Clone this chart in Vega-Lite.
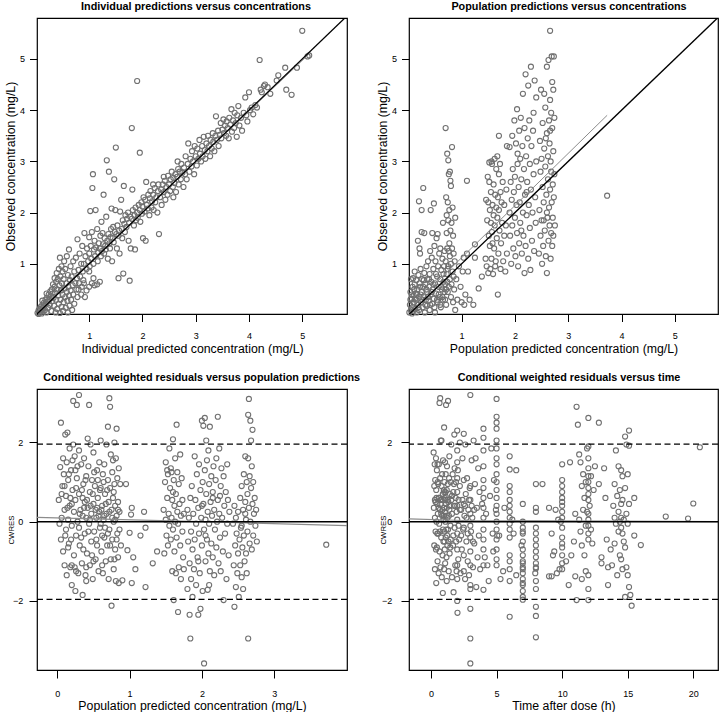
{
"$schema":"https://vega.github.io/schema/vega-lite/v6.json",
"autosize":{"type":"none"},
"padding":{"left":37,"top":18,"right":683,"bottom":694},
"background":"white",
"config":{
"font":"Liberation Sans",
"view":{"stroke":"black","strokeWidth":1.2},
"axis":{"grid":false,"domain":false,"tickColor":"black","tickWidth":1,"tickSize":7.5,"labelColor":"black","labelFontSize":9,"labelFont":"Liberation Sans","titleFont":"Liberation Sans","titleFontSize":12.3,"titleFontWeight":"normal","titleColor":"black","labelFlush":false,"labelOverlap":false,"format":"d"},
"point":{"shape":"circle","filled":false,"size":26,"strokeWidth":1.1,"color":"#707070","opacity":1,"clip":true},
"title":{"fontSize":10.8,"font":"Liberation Sans","fontWeight":"bold","color":"black","baseline":"alphabetic","offset":6.7,"frame":"group","anchor":"middle"}
},
"datasets":{
"p1":[
{"x":0.03,"y":0.04},{"x":0.05,"y":0.02},{"x":0.05,"y":0.09},{"x":0.07,"y":0.12},{"x":0.08,"y":0.05},{"x":0.09,"y":0.16},{"x":0.1,"y":0.1},{"x":0.11,"y":0.03},{"x":0.12,"y":0.2},{"x":0.13,"y":0.14},{"x":0.14,"y":0.07},{"x":0.15,"y":0.24},{"x":0.16,"y":0.18},{"x":0.17,"y":0.1},{"x":0.18,"y":0.3},{"x":0.19,"y":0.22},{"x":0.2,"y":0.05},{"x":0.21,"y":0.34},{"x":0.22,"y":0.26},{"x":0.23,"y":0.14},{"x":0.24,"y":0.4},{"x":0.25,"y":0.3},{"x":0.26,"y":0.2},{"x":0.27,"y":0.46},{"x":0.28,"y":0.36},{"x":0.29,"y":0.08},{"x":0.3,"y":0.5},{"x":0.3,"y":0.27},{"x":0.12,"y":0.28},{"x":0.2,"y":0.42},
{"x":0.31,"y":0.42},{"x":0.32,"y":0.6},{"x":0.33,"y":0.33},{"x":0.34,"y":0.18},{"x":0.35,"y":0.55},{"x":0.35,"y":0.72},{"x":0.36,"y":0.44},{"x":0.37,"y":0.05},{"x":0.38,"y":0.65},{"x":0.38,"y":0.3},{"x":0.39,"y":0.82},{"x":0.4,"y":0.5},{"x":0.4,"y":0.12},{"x":0.41,"y":0.7},{"x":0.42,"y":0.38},{"x":0.43,"y":0.9},{"x":0.43,"y":0.22},{"x":0.44,"y":0.58},{"x":0.45,"y":1.12},{"x":0.45,"y":0.04},{"x":0.46,"y":0.75},{"x":0.46,"y":0.3},{"x":0.47,"y":0.48},{"x":0.48,"y":0.95},{"x":0.48,"y":0.16},{"x":0.49,"y":0.62},{"x":0.5,"y":0.4},{"x":0.5,"y":0.85},{"x":0.51,"y":0.08},{"x":0.52,"y":0.7},{"x":0.52,"y":0.25},{"x":0.53,"y":1.05},{"x":0.54,"y":0.52},{"x":0.55,"y":0.35},{"x":0.55,"y":0.9},{"x":0.56,"y":0.14},{"x":0.57,"y":0.62},{"x":0.58,"y":1.15},{"x":0.58,"y":0.45},{"x":0.59,"y":0.28},{"x":0.6,"y":0.78},{"x":0.6,"y":0.05},{"x":0.61,"y":0.55},{"x":0.62,"y":1.28},{"x":0.62,"y":0.38},{"x":0.63,"y":0.18},{"x":0.64,"y":0.68},{"x":0.65,"y":0.95},{"x":0.65,"y":0.48},{"x":0.66,"y":0.3},{"x":0.67,"y":0.75},{"x":0.68,"y":0.1},{"x":0.69,"y":0.58},{"x":0.7,"y":1.05},{"x":0.7,"y":0.4},{"x":0.72,"y":0.85},{"x":0.72,"y":0.22},{"x":0.74,"y":0.62},{"x":0.75,"y":1.12},{"x":0.76,"y":0.5},{"x":0.77,"y":0.72},{"x":0.78,"y":1.48},{"x":0.78,"y":0.35},{"x":0.8,"y":0.88},{"x":0.81,"y":0.62},{"x":0.82,"y":1.2},{"x":0.83,"y":0.75},{"x":0.85,"y":1.0},{"x":0.86,"y":0.55},{"x":0.87,"y":1.35},{"x":0.88,"y":0.85},{"x":0.89,"y":0.68},
{"x":0.8,"y":0.5},{"x":0.85,"y":0.4},{"x":0.9,"y":0.62},{"x":0.95,"y":0.48},{"x":1.0,"y":0.55},{"x":1.05,"y":0.62},{"x":1.1,"y":0.58},{"x":1.15,"y":0.6},{"x":1.2,"y":0.65},{"x":0.92,"y":0.35},{"x":1.0,"y":0.85},{"x":1.08,"y":0.72},{"x":1.55,"y":0.72},{"x":1.64,"y":0.81},{"x":1.76,"y":0.67},
{"x":0.9,"y":1.0},{"x":0.91,"y":1.6},{"x":0.93,"y":1.15},{"x":0.95,"y":0.9},{"x":0.96,"y":1.3},{"x":0.98,"y":1.05},{"x":1.0,"y":1.2},{"x":1.0,"y":1.52},{"x":1.01,"y":0.95},{"x":1.02,"y":2.03},{"x":1.03,"y":1.35},{"x":1.04,"y":1.1},{"x":1.05,"y":1.62},{"x":1.06,"y":2.48},{"x":1.07,"y":2.75},{"x":1.08,"y":1.0},{"x":1.09,"y":1.28},{"x":1.1,"y":1.45},{"x":1.11,"y":1.15},{"x":1.12,"y":2.05},{"x":1.13,"y":1.32},{"x":1.15,"y":1.68},{"x":1.16,"y":1.05},{"x":1.17,"y":1.22},{"x":1.18,"y":1.4},{"x":1.2,"y":1.3},{"x":1.21,"y":1.55},{"x":1.22,"y":1.15},{"x":1.23,"y":1.82},{"x":1.24,"y":1.25},{"x":1.25,"y":1.6},{"x":1.26,"y":1.38},{"x":1.27,"y":2.35},{"x":1.28,"y":1.2},{"x":1.29,"y":1.5},{"x":1.3,"y":1.35},{"x":1.31,"y":1.28},{"x":1.32,"y":1.92},{"x":1.33,"y":3.02},{"x":1.34,"y":1.45},{"x":1.35,"y":1.1},{"x":1.36,"y":1.58},{"x":1.37,"y":2.8},{"x":1.38,"y":1.4},{"x":1.39,"y":1.3},{"x":1.4,"y":1.52},{"x":1.41,"y":1.68},{"x":1.42,"y":2.08},{"x":1.43,"y":1.05},{"x":1.44,"y":1.5},{"x":1.45,"y":1.72},{"x":1.46,"y":1.42},{"x":1.47,"y":2.65},{"x":1.48,"y":1.62},{"x":1.49,"y":2.05},{"x":1.5,"y":3.27},{"x":1.51,"y":1.58},{"x":1.52,"y":1.3},{"x":1.53,"y":1.75},{"x":1.55,"y":1.55},{"x":1.56,"y":1.65},{"x":1.57,"y":1.2},{"x":1.58,"y":2.02},{"x":1.6,"y":2.25},{"x":1.61,"y":1.68},{"x":1.62,"y":1.5},{"x":1.63,"y":1.85},{"x":1.65,"y":2.52},{"x":1.66,"y":1.78},{"x":1.67,"y":1.62},{"x":1.68,"y":1.95},{"x":1.7,"y":1.72},{"x":1.71,"y":1.88},{"x":1.73,"y":2.0},{"x":1.74,"y":1.45},{"x":1.75,"y":1.8},{"x":1.77,"y":1.92},{"x":1.78,"y":1.3},{"x":1.8,"y":3.65},{"x":1.8,"y":1.88},{"x":1.81,"y":2.45},{"x":1.82,"y":2.05},{"x":1.84,"y":1.75},{"x":1.85,"y":1.95},{"x":1.86,"y":1.28},{"x":1.87,"y":2.1},{"x":1.88,"y":1.85},{"x":1.9,"y":4.57},{"x":1.9,"y":2.0},{"x":1.91,"y":1.9},{"x":1.93,"y":2.15},{"x":1.95,"y":3.17},{"x":1.95,"y":2.05},{"x":1.96,"y":1.82},{"x":1.98,"y":2.2},{"x":1.99,"y":1.98},
{"x":2.0,"y":2.12},{"x":2.01,"y":1.5},{"x":2.02,"y":2.3},{"x":2.04,"y":2.02},{"x":2.05,"y":2.25},{"x":2.06,"y":1.45},{"x":2.07,"y":2.6},{"x":2.08,"y":2.15},{"x":2.1,"y":2.08},{"x":2.11,"y":2.35},{"x":2.13,"y":1.95},{"x":2.14,"y":2.28},{"x":2.15,"y":2.42},{"x":2.17,"y":2.1},{"x":2.18,"y":2.22},{"x":2.2,"y":2.35},{"x":2.21,"y":2.05},{"x":2.23,"y":2.48},{"x":2.24,"y":2.2},{"x":2.26,"y":2.3},{"x":2.28,"y":2.0},{"x":2.29,"y":2.42},{"x":2.3,"y":2.55},{"x":2.31,"y":1.58},{"x":2.33,"y":2.3},{"x":2.35,"y":2.45},{"x":2.36,"y":2.15},{"x":2.38,"y":2.55},{"x":2.4,"y":2.4},{"x":2.42,"y":2.62},{"x":2.43,"y":2.25},{"x":2.45,"y":2.5},{"x":2.47,"y":2.35},{"x":2.48,"y":2.72},{"x":2.5,"y":2.55},{"x":2.52,"y":2.42},{"x":2.53,"y":2.65},{"x":2.55,"y":2.8},{"x":2.57,"y":2.5},{"x":2.58,"y":2.68},{"x":2.6,"y":2.58},{"x":2.62,"y":2.75},{"x":2.63,"y":2.4},{"x":2.65,"y":2.7},{"x":2.67,"y":2.85},{"x":2.68,"y":2.55},{"x":2.7,"y":2.8},{"x":2.72,"y":2.65},{"x":2.73,"y":2.95},{"x":2.75,"y":2.78},{"x":2.77,"y":2.5},{"x":2.78,"y":2.88},{"x":2.8,"y":2.75},{"x":2.81,"y":3.1},{"x":2.83,"y":2.65},{"x":2.85,"y":2.95},{"x":2.86,"y":3.35},{"x":2.88,"y":2.8},{"x":2.9,"y":3.05},{"x":2.92,"y":2.9},{"x":2.93,"y":3.2},{"x":2.95,"y":3.0},{"x":2.97,"y":2.75},{"x":2.98,"y":3.3},{"x":2.58,"y":2.3},{"x":2.4,"y":2.7},{"x":2.2,"y":2.55},{"x":2.66,"y":3.0},
{"x":3.0,"y":3.1},{"x":3.02,"y":2.92},{"x":3.03,"y":3.25},{"x":3.05,"y":3.05},{"x":3.07,"y":3.42},{"x":3.08,"y":3.15},{"x":3.1,"y":3.0},{"x":3.12,"y":3.3},{"x":3.13,"y":3.1},{"x":3.15,"y":3.48},{"x":3.17,"y":3.22},{"x":3.18,"y":3.05},{"x":3.2,"y":3.35},{"x":3.22,"y":3.2},{"x":3.23,"y":3.5},{"x":3.25,"y":3.3},{"x":3.27,"y":3.1},{"x":3.28,"y":3.42},{"x":3.3,"y":3.25},{"x":3.32,"y":3.55},{"x":3.33,"y":3.38},{"x":3.35,"y":3.2},{"x":3.37,"y":3.5},{"x":3.38,"y":3.88},{"x":3.4,"y":3.42},{"x":3.42,"y":3.6},{"x":3.43,"y":3.3},{"x":3.45,"y":3.52},{"x":3.47,"y":3.75},{"x":3.48,"y":3.45},{"x":3.5,"y":3.62},{"x":3.52,"y":3.82},{"x":3.53,"y":3.55},{"x":3.55,"y":3.7},{"x":3.57,"y":3.5},{"x":3.58,"y":3.78},{"x":3.6,"y":3.65},{"x":3.62,"y":3.45},{"x":3.63,"y":3.85},{"x":3.65,"y":3.72},{"x":3.67,"y":4.02},{"x":3.68,"y":3.58},{"x":3.7,"y":3.8},{"x":3.72,"y":3.65},{"x":3.73,"y":3.95},{"x":3.75,"y":3.75},{"x":3.77,"y":3.48},{"x":3.78,"y":3.9},{"x":3.8,"y":4.08},{"x":3.82,"y":3.7},{"x":3.85,"y":3.85},{"x":3.87,"y":3.6},{"x":3.9,"y":3.95},{"x":3.93,"y":4.25},{"x":3.95,"y":3.9},{"x":3.97,"y":3.78},{"x":4.0,"y":4.35},{"x":4.02,"y":4.0},{"x":4.05,"y":4.05},{"x":4.08,"y":3.92},{"x":4.12,"y":4.1},{"x":4.15,"y":4.05},
{"x":4.2,"y":4.98},{"x":4.22,"y":4.4},{"x":4.24,"y":4.35},{"x":4.28,"y":4.47},{"x":4.3,"y":4.5},{"x":4.4,"y":4.32},{"x":4.52,"y":4.58},{"x":4.55,"y":4.68},{"x":4.68,"y":4.83},{"x":4.7,"y":4.4},{"x":4.8,"y":4.3},{"x":4.9,"y":4.83},{"x":5.0,"y":5.55},{"x":5.1,"y":5.05},{"x":5.13,"y":5.07},{"x":4.35,"y":4.45}
],
"p2":[
{"x":0.02,"y":0.05},{"x":0.03,"y":0.2},{"x":0.04,"y":0.45},{"x":0.05,"y":0.1},{"x":0.05,"y":0.7},{"x":0.06,"y":0.32},{"x":0.07,"y":0.03},{"x":0.08,"y":0.55},{"x":0.08,"y":0.15},{"x":0.09,"y":0.72},{"x":0.1,"y":0.38},{"x":0.1,"y":0.08},{"x":0.11,"y":0.25},{"x":0.12,"y":0.6},{"x":0.12,"y":0.85},{"x":0.13,"y":0.12},{"x":0.14,"y":0.42},{"x":0.15,"y":0.3},{"x":0.15,"y":0.68},{"x":0.16,"y":0.05},{"x":0.17,"y":0.5},{"x":0.18,"y":0.2},{"x":0.18,"y":1.45},{"x":0.19,"y":0.78},{"x":0.2,"y":0.35},{"x":0.2,"y":0.1},{"x":0.2,"y":2.22},{"x":0.21,"y":1.3},{"x":0.22,"y":0.55},{"x":0.22,"y":1.2},{"x":0.23,"y":0.9},{"x":0.24,"y":0.25},{"x":0.25,"y":0.45},{"x":0.25,"y":1.62},{"x":0.25,"y":2.05},{"x":0.26,"y":0.7},{"x":0.27,"y":0.15},{"x":0.28,"y":0.55},{"x":0.28,"y":2.48},{"x":0.29,"y":0.35},{"x":0.3,"y":0.82},{"x":0.3,"y":1.6},{"x":0.31,"y":0.05},{"x":0.32,"y":0.6},{"x":0.33,"y":0.3},{"x":0.34,"y":0.95},{"x":0.35,"y":0.45},{"x":0.35,"y":0.18},{"x":0.36,"y":0.7},{"x":0.37,"y":1.05},{"x":0.38,"y":0.28},{"x":0.39,"y":0.55},{"x":0.4,"y":0.8},{"x":0.4,"y":0.1},{"x":0.41,"y":1.25},{"x":0.42,"y":0.4},{"x":0.42,"y":2.05},{"x":0.43,"y":0.65},{"x":0.44,"y":1.12},{"x":0.45,"y":0.22},{"x":0.45,"y":1.6},{"x":0.46,"y":0.5},{"x":0.47,"y":0.9},{"x":0.48,"y":2.18},{"x":0.48,"y":0.32},{"x":0.49,"y":1.35},{"x":0.5,"y":0.62},{"x":0.5,"y":0.05},{"x":0.51,"y":1.05},{"x":0.52,"y":0.42},{"x":0.53,"y":1.5},{"x":0.54,"y":0.75},{"x":0.55,"y":0.25},{"x":0.55,"y":1.58},{"x":0.56,"y":0.95},{"x":0.57,"y":0.55},{"x":0.58,"y":1.2},{"x":0.59,"y":0.35},{"x":0.6,"y":0.7},{"x":0.6,"y":1.3},{"x":0.61,"y":0.15},{"x":0.62,"y":0.88},{"x":0.63,"y":0.5},{"x":0.64,"y":1.1},{"x":0.65,"y":0.3},{"x":0.65,"y":1.8},{"x":0.66,"y":0.65},{"x":0.67,"y":0.95},{"x":0.68,"y":1.25},{"x":0.68,"y":0.45},
{"x":0.04,"y":0.3},{"x":0.07,"y":0.4},{"x":0.09,"y":0.25},{"x":0.11,"y":0.5},{"x":0.13,"y":0.3},{"x":0.16,"y":0.4},{"x":0.19,"y":0.15},{"x":0.21,"y":0.62},{"x":0.23,"y":0.4},{"x":0.26,"y":0.3},{"x":0.29,"y":0.68},{"x":0.32,"y":0.2},{"x":0.34,"y":0.5},{"x":0.37,"y":0.35},{"x":0.39,"y":0.7},{"x":0.41,"y":0.2},{"x":0.44,"y":0.45},{"x":0.47,"y":0.6},{"x":0.49,"y":0.15},{"x":0.52,"y":0.8},{"x":0.54,"y":0.3},{"x":0.57,"y":0.4},{"x":0.6,"y":0.2},{"x":0.62,"y":0.55},{"x":0.64,"y":0.35},{"x":0.66,"y":0.8},{"x":0.69,"y":0.3},{"x":0.71,"y":0.5},{"x":0.73,"y":0.65},{"x":0.74,"y":0.9},
{"x":0.69,"y":0.6},{"x":0.7,"y":3.65},{"x":0.7,"y":1.05},{"x":0.71,"y":0.2},{"x":0.71,"y":2.3},{"x":0.72,"y":1.6},{"x":0.72,"y":0.8},{"x":0.73,"y":3.15},{"x":0.73,"y":1.3},{"x":0.74,"y":2.2},{"x":0.74,"y":0.45},{"x":0.75,"y":3.02},{"x":0.75,"y":1.85},{"x":0.75,"y":0.95},{"x":0.76,"y":2.75},{"x":0.76,"y":0.55},{"x":0.77,"y":1.4},{"x":0.77,"y":2.05},{"x":0.78,"y":2.8},{"x":0.78,"y":0.7},{"x":0.78,"y":1.15},{"x":0.79,"y":2.62},{"x":0.79,"y":1.65},{"x":0.8,"y":0.35},{"x":0.8,"y":2.52},{"x":0.8,"y":1.0},{"x":0.81,"y":1.8},{"x":0.81,"y":0.6},{"x":0.82,"y":3.28},{"x":0.82,"y":1.3},{"x":0.83,"y":2.1},{"x":0.83,"y":0.85},{"x":0.84,"y":1.55},{"x":0.84,"y":0.25},{"x":0.85,"y":0.75},{"x":0.85,"y":1.2},{"x":0.86,"y":0.5},{"x":0.87,"y":1.05},{"x":0.88,"y":1.9},{"x":0.88,"y":0.1},{"x":0.76,"y":1.25},{"x":0.72,"y":1.95},
{"x":0.9,"y":0.7},{"x":0.92,"y":0.3},{"x":0.95,"y":0.95},{"x":0.98,"y":0.55},{"x":1.0,"y":0.25},{"x":1.02,"y":0.85},{"x":1.04,"y":1.12},{"x":1.05,"y":0.2},{"x":1.07,"y":0.4},{"x":1.1,"y":2.62},{"x":1.1,"y":1.2},{"x":1.12,"y":0.85},{"x":1.15,"y":0.3},{"x":1.22,"y":0.2},{"x":1.25,"y":1.12},{"x":1.25,"y":1.38},{"x":1.32,"y":0.52},{"x":1.38,"y":0.75},{"x":1.68,"y":0.4},
{"x":1.45,"y":1.1},{"x":1.46,"y":2.25},{"x":1.47,"y":0.95},{"x":1.48,"y":1.85},{"x":1.49,"y":2.7},{"x":1.5,"y":0.82},{"x":1.5,"y":2.2},{"x":1.51,"y":1.55},{"x":1.52,"y":2.98},{"x":1.53,"y":1.35},{"x":1.53,"y":2.05},{"x":1.54,"y":0.9},{"x":1.55,"y":1.8},{"x":1.55,"y":2.4},{"x":1.56,"y":1.1},{"x":1.57,"y":2.95},{"x":1.57,"y":1.62},{"x":1.58,"y":2.15},{"x":1.59,"y":0.8},{"x":1.6,"y":1.95},{"x":1.6,"y":2.55},{"x":1.61,"y":1.3},{"x":1.62,"y":3.05},{"x":1.62,"y":1.75},{"x":1.63,"y":2.35},{"x":1.64,"y":1.05},{"x":1.65,"y":2.1},{"x":1.65,"y":2.85},{"x":1.66,"y":1.5},{"x":1.67,"y":1.9},{"x":1.67,"y":3.1},{"x":1.68,"y":2.3},{"x":1.69,"y":1.2},{"x":1.7,"y":3.5},{"x":1.7,"y":2.05},{"x":1.71,"y":1.65},{"x":1.72,"y":2.95},{"x":1.73,"y":0.9},{"x":1.73,"y":2.4},{"x":1.74,"y":1.4},{"x":1.75,"y":2.2},{"x":1.76,"y":1.8},{"x":1.77,"y":2.6},{"x":1.78,"y":1.05},{"x":1.8,"y":1.55},{"x":1.8,"y":2.15},{"x":1.82,"y":0.85},{"x":1.83,"y":1.75},{"x":1.84,"y":2.45},{"x":1.85,"y":1.2},{"x":1.85,"y":3.3},{"x":1.58,"y":1.4},{"x":1.52,"y":2.6},{"x":1.63,"y":0.95},{"x":1.56,"y":3.0},{"x":1.7,"y":2.75},
{"x":1.9,"y":2.0},{"x":1.9,"y":3.28},{"x":1.91,"y":1.55},{"x":1.92,"y":2.6},{"x":1.93,"y":1.0},{"x":1.94,"y":2.25},{"x":1.95,"y":3.5},{"x":1.95,"y":1.75},{"x":1.96,"y":2.85},{"x":1.97,"y":1.3},{"x":1.98,"y":2.4},{"x":1.99,"y":3.8},{"x":2.0,"y":1.9},{"x":2.0,"y":2.7},{"x":2.01,"y":1.15},{"x":2.02,"y":3.35},{"x":2.03,"y":2.15},{"x":2.04,"y":4.02},{"x":2.04,"y":1.6},{"x":2.05,"y":2.95},{"x":2.06,"y":0.95},{"x":2.07,"y":2.5},{"x":2.08,"y":3.6},{"x":2.08,"y":1.4},{"x":2.09,"y":2.2},{"x":2.1,"y":3.05},{"x":2.1,"y":1.8},{"x":2.11,"y":3.85},{"x":2.12,"y":2.65},{"x":2.13,"y":1.2},{"x":2.14,"y":3.3},{"x":2.15,"y":2.0},{"x":2.15,"y":4.32},{"x":2.16,"y":1.55},{"x":2.17,"y":2.85},{"x":2.18,"y":3.65},{"x":2.18,"y":0.82},{"x":2.19,"y":2.35},{"x":2.2,"y":1.35},{"x":2.2,"y":4.7},{"x":2.21,"y":3.1},{"x":2.22,"y":1.95},{"x":2.23,"y":2.6},{"x":2.24,"y":3.45},{"x":2.25,"y":1.1},{"x":2.25,"y":4.48},{"x":2.26,"y":2.15},{"x":2.27,"y":3.8},{"x":2.28,"y":1.7},{"x":2.28,"y":2.95},{"x":2.29,"y":0.88},{"x":2.3,"y":2.45},{"x":2.3,"y":4.85},{"x":2.31,"y":3.3},{"x":2.32,"y":1.45},{"x":2.33,"y":2.0},{"x":2.34,"y":3.6},{"x":2.35,"y":2.75},{"x":2.36,"y":1.25},{"x":2.37,"y":4.58},{"x":2.38,"y":2.3},{"x":2.39,"y":1.8},{"x":2.4,"y":3.0},{"x":2.4,"y":4.25},{"x":2.12,"y":1.65},{"x":2.22,"y":2.4},{"x":2.05,"y":3.15},{"x":2.35,"y":3.95},
{"x":2.45,"y":1.2},{"x":2.46,"y":2.05},{"x":2.47,"y":3.4},{"x":2.48,"y":1.55},{"x":2.48,"y":2.8},{"x":2.49,"y":4.4},{"x":2.5,"y":1.85},{"x":2.5,"y":3.05},{"x":2.51,"y":1.0},{"x":2.52,"y":2.5},{"x":2.52,"y":3.75},{"x":2.53,"y":1.35},{"x":2.54,"y":2.2},{"x":2.55,"y":4.32},{"x":2.55,"y":3.25},{"x":2.56,"y":1.65},{"x":2.57,"y":2.9},{"x":2.57,"y":4.05},{"x":2.58,"y":1.15},{"x":2.59,"y":2.35},{"x":2.6,"y":3.55},{"x":2.6,"y":0.82},{"x":2.6,"y":4.85},{"x":2.61,"y":1.9},{"x":2.62,"y":3.1},{"x":2.62,"y":2.65},{"x":2.63,"y":4.98},{"x":2.63,"y":1.45},{"x":2.64,"y":3.8},{"x":2.64,"y":2.1},{"x":2.65,"y":1.75},{"x":2.65,"y":3.35},{"x":2.66,"y":5.55},{"x":2.66,"y":2.45},{"x":2.66,"y":4.2},{"x":2.67,"y":1.1},{"x":2.67,"y":3.0},{"x":2.68,"y":2.8},{"x":2.68,"y":3.95},{"x":2.68,"y":1.6},{"x":2.69,"y":5.05},{"x":2.69,"y":2.2},{"x":2.7,"y":3.65},{"x":2.7,"y":1.35},{"x":2.7,"y":4.55},{"x":2.71,"y":2.55},{"x":2.71,"y":1.9},{"x":2.72,"y":3.2},{"x":2.72,"y":4.4},{"x":2.72,"y":1.55},{"x":2.73,"y":5.05},{"x":2.73,"y":2.3},{"x":2.74,"y":3.85},{"x":2.74,"y":2.75},{"x":2.75,"y":1.75},{"x":2.58,"y":3.45},{"x":2.54,"y":1.85},{"x":2.6,"y":2.0},{"x":2.66,"y":3.6},
{"x":3.73,"y":2.33}
],
"p3":[
{"x":0.02,"y":0.55},{"x":0.03,"y":-0.05},{"x":0.04,"y":1.38},{"x":0.05,"y":2.5},{"x":0.05,"y":-0.45},{"x":0.06,"y":0.1},{"x":0.07,"y":0.9},{"x":0.08,"y":-0.75},{"x":0.09,"y":1.2},{"x":0.1,"y":0.3},{"x":0.1,"y":-1.1},{"x":0.11,"y":2.2},{"x":0.12,"y":0.65},{"x":0.12,"y":-0.2},{"x":0.13,"y":1.5},{"x":0.13,"y":-1.35},{"x":0.14,"y":2.25},{"x":0.15,"y":0.05},{"x":0.15,"y":1.05},{"x":0.16,"y":-0.55},{"x":0.17,"y":1.85},{"x":0.17,"y":0.4},{"x":0.18,"y":-1.15},{"x":0.19,"y":1.3},{"x":0.2,"y":-0.1},{"x":0.2,"y":-1.6},{"x":0.21,"y":0.8},{"x":0.22,"y":3.05},{"x":0.22,"y":1.95},{"x":0.23,"y":-0.85},{"x":0.23,"y":0.25},{"x":0.24,"y":1.65},{"x":0.25,"y":-1.75},{"x":0.25,"y":0.55},{"x":0.26,"y":-0.35},{"x":0.27,"y":1.1},{"x":0.27,"y":2.95},{"x":0.28,"y":0.0},{"x":0.29,"y":-1.3},{"x":0.3,"y":3.2},{"x":0.3,"y":0.7},{"x":0.3,"y":1.8},{"x":0.31,"y":-0.6},{"x":0.32,"y":0.3},{"x":0.33,"y":1.45},{"x":0.34,"y":-1.05},{"x":0.35,"y":0.15},{"x":0.35,"y":-1.85},{"x":0.36,"y":0.95},{"x":0.37,"y":1.6},{"x":0.38,"y":-0.3},{"x":0.38,"y":0.5},{"x":0.39,"y":-1.35},{"x":0.4,"y":1.15},{"x":0.4,"y":0.1},{"x":0.41,"y":-0.8},{"x":0.42,"y":2.1},{"x":0.42,"y":0.35},{"x":0.43,"y":1.4},{"x":0.44,"y":-0.05},{"x":0.44,"y":2.95},{"x":0.45,"y":-1.1},{"x":0.45,"y":0.75},{"x":0.46,"y":1.95},{"x":0.47,"y":-0.5},{"x":0.47,"y":0.2},{"x":0.48,"y":1.05},{"x":0.49,"y":-1.45},{"x":0.5,"y":0.45},{"x":0.5,"y":1.75},{"x":0.51,"y":-0.25},{"x":0.52,"y":0.9},{"x":0.53,"y":-0.95},{"x":0.54,"y":0.1},{"x":0.55,"y":1.3},{"x":0.55,"y":-0.6},{"x":0.56,"y":0.6},{"x":0.57,"y":-1.25},{"x":0.58,"y":1.5},{"x":0.58,"y":0.25},{"x":0.59,"y":-0.15},{"x":0.6,"y":2.05},{"x":0.6,"y":0.85},{"x":0.61,"y":-0.75},{"x":0.62,"y":0.4},{"x":0.63,"y":1.2},{"x":0.63,"y":-1.3},{"x":0.64,"y":0.05},{"x":0.65,"y":1.45},{"x":0.65,"y":-0.4},{"x":0.66,"y":0.7},{"x":0.67,"y":-1.0},{"x":0.68,"y":1.95},{"x":0.68,"y":0.2},{"x":0.69,"y":-0.6},{"x":0.7,"y":1.05},{"x":0.7,"y":2.4},{"x":0.71,"y":-1.45},{"x":0.71,"y":0.5},{"x":0.72,"y":3.12},{"x":0.72,"y":-0.2},{"x":0.73,"y":2.9},{"x":0.73,"y":0.85},{"x":0.74,"y":-0.95},{"x":0.74,"y":1.7},{"x":0.75,"y":0.3},{"x":0.75,"y":-2.12},{"x":0.76,"y":1.25},{"x":0.76,"y":-0.45},{"x":0.77,"y":0.6},{"x":0.77,"y":1.55},{"x":0.78,"y":-1.2},{"x":0.78,"y":0.0},{"x":0.79,"y":2.0},{"x":0.79,"y":0.95},{"x":0.8,"y":-0.7},{"x":0.8,"y":0.4},{"x":0.81,"y":1.6},{"x":0.81,"y":-1.5},{"x":0.82,"y":0.15},{"x":0.82,"y":2.35},{"x":0.83,"y":-0.3},{"x":0.83,"y":1.1},{"x":0.84,"y":0.5},{"x":0.84,"y":-0.9},{"x":0.85,"y":1.35},{"x":0.85,"y":-1.55},{"x":0.86,"y":0.25},{"x":0.87,"y":0.95},{"x":0.88,"y":-0.6},{"x":0.3,"y":-0.15},{"x":0.35,"y":0.6},{"x":0.45,"y":0.05},{"x":0.55,"y":0.35},{"x":0.65,"y":0.15},{"x":0.2,"y":0.45},{"x":0.15,"y":-0.65},{"x":0.4,"y":-1.5},{"x":0.5,"y":-1.0},{"x":0.6,"y":-0.05},{"x":0.25,"y":1.3},{"x":0.1,"y":0.9},
{"x":0.06,"y":0.7},{"x":0.08,"y":1.6},{"x":0.11,"y":-0.35},{"x":0.14,"y":0.35},{"x":0.16,"y":1.2},{"x":0.18,"y":0.6},{"x":0.19,"y":-0.45},{"x":0.21,"y":1.55},{"x":0.24,"y":-1.15},{"x":0.26,"y":0.85},{"x":0.28,"y":1.4},{"x":0.31,"y":0.2},{"x":0.33,"y":-0.4},{"x":0.34,"y":0.8},{"x":0.36,"y":-0.7},{"x":0.37,"y":0.35},{"x":0.39,"y":1.05},{"x":0.41,"y":0.55},{"x":0.43,"y":-0.25},{"x":0.46,"y":0.4},{"x":0.48,"y":-0.85},{"x":0.49,"y":0.7},{"x":0.51,"y":1.25},{"x":0.53,"y":0.3},{"x":0.54,"y":-0.45},{"x":0.56,"y":1.05},{"x":0.57,"y":0.15},{"x":0.59,"y":0.8},{"x":0.61,"y":0.3},{"x":0.62,"y":-0.35},{"x":0.64,"y":1.0},{"x":0.66,"y":-0.15},{"x":0.67,"y":0.45},{"x":0.69,"y":0.8},{"x":0.7,"y":-0.3},{"x":0.72,"y":0.25},{"x":0.73,"y":-0.6},{"x":0.76,"y":0.1},{"x":0.78,"y":0.75},{"x":0.8,"y":0.05},{"x":0.82,"y":-0.45},{"x":0.84,"y":0.3},{"x":0.86,"y":-0.2},{"x":0.4,"y":-1.15},{"x":0.26,"y":-1.25},{"x":0.2,"y":-1.1},{"x":0.62,"y":-1.1},{"x":0.79,"y":-0.95},
{"x":0.9,"y":-1.48},{"x":0.95,"y":0.95},{"x":0.97,"y":-0.72},{"x":1.0,"y":-0.28},{"x":1.02,"y":0.18},{"x":1.03,"y":0.35},{"x":1.03,"y":-1.55},{"x":1.05,"y":-0.9},{"x":1.08,"y":-1.2},{"x":1.15,"y":-0.35},{"x":1.2,"y":0.25},{"x":1.22,"y":-0.15},{"x":1.22,"y":-1.65},{"x":1.32,"y":-1.05},{"x":1.38,"y":-0.75},
{"x":1.47,"y":0.3},{"x":1.48,"y":-0.8},{"x":1.49,"y":1.0},{"x":1.5,"y":0.05},{"x":1.5,"y":1.5},{"x":1.51,"y":-0.35},{"x":1.52,"y":0.6},{"x":1.53,"y":1.2},{"x":1.53,"y":-0.6},{"x":1.54,"y":0.2},{"x":1.55,"y":1.85},{"x":1.55,"y":-0.1},{"x":1.56,"y":0.85},{"x":1.57,"y":-0.45},{"x":1.57,"y":1.35},{"x":1.58,"y":0.1},{"x":1.59,"y":-1.25},{"x":1.59,"y":0.55},{"x":1.6,"y":2.08},{"x":1.6,"y":-0.2},{"x":1.61,"y":1.05},{"x":1.61,"y":-1.98},{"x":1.62,"y":0.4},{"x":1.62,"y":-0.75},{"x":1.63,"y":1.6},{"x":1.63,"y":0.0},{"x":1.64,"y":-1.3},{"x":1.64,"y":0.7},{"x":1.65,"y":2.45},{"x":1.65,"y":-0.4},{"x":1.66,"y":0.25},{"x":1.66,"y":1.25},{"x":1.67,"y":-2.28},{"x":1.67,"y":-0.05},{"x":1.68,"y":0.95},{"x":1.68,"y":-1.15},{"x":1.69,"y":0.45},{"x":1.7,"y":1.7},{"x":1.7,"y":-0.6},{"x":1.71,"y":0.15},{"x":1.71,"y":-1.45},{"x":1.72,"y":1.1},{"x":1.73,"y":-0.25},{"x":1.73,"y":0.55},{"x":1.74,"y":-0.9},{"x":1.75,"y":0.2},{"x":1.75,"y":-1.2},{"x":1.52,"y":1.3},{"x":1.58,"y":1.25},{"x":1.6,"y":0.75},
{"x":1.8,"y":0.3},{"x":1.8,"y":-1.7},{"x":1.81,"y":-0.5},{"x":1.82,"y":0.1},{"x":1.83,"y":-2.35},{"x":1.83,"y":-1.05},{"x":1.84,"y":-2.95},{"x":1.84,"y":0.6},{"x":1.85,"y":-0.25},{"x":1.85,"y":-1.45},{"x":1.86,"y":0.9},{"x":1.87,"y":-0.7},{"x":1.87,"y":-1.9},{"x":1.88,"y":0.2},{"x":1.89,"y":-1.2},{"x":1.9,"y":1.65},{"x":1.9,"y":-0.45},{"x":1.91,"y":0.55},{"x":1.92,"y":-1.6},{"x":1.92,"y":-0.05},{"x":1.93,"y":1.2},{"x":1.94,"y":-0.9},{"x":1.95,"y":0.35},{"x":1.95,"y":-2.35},{"x":1.96,"y":1.45},{"x":1.96,"y":-0.3},{"x":1.97,"y":-1.3},{"x":1.98,"y":0.8},{"x":1.98,"y":-2.2},{"x":1.99,"y":0.1},{"x":2.0,"y":2.55},{"x":2.0,"y":-0.6},{"x":2.01,"y":1.0},{"x":2.01,"y":-1.75},{"x":2.02,"y":0.45},{"x":2.02,"y":2.42},{"x":2.03,"y":-3.58},{"x":2.03,"y":-0.2},{"x":2.04,"y":2.62},{"x":2.04,"y":1.3},{"x":2.05,"y":-1.0},{"x":2.05,"y":0.05},{"x":2.06,"y":2.05},{"x":2.06,"y":0.7},{"x":2.07,"y":-0.45},{"x":2.07,"y":1.55},{"x":2.08,"y":-1.72},{"x":2.08,"y":0.25},{"x":2.09,"y":1.8},{"x":2.09,"y":-0.8},{"x":2.1,"y":0.95},{"x":2.1,"y":-0.05},{"x":2.11,"y":2.4},{"x":2.11,"y":-1.25},{"x":2.12,"y":0.5},{"x":2.13,"y":1.15},{"x":2.13,"y":-0.55},{"x":2.14,"y":0.15},{"x":2.15,"y":-0.9},{"x":2.15,"y":0.75},{"x":2.16,"y":1.4},{"x":2.17,"y":-1.35},{"x":2.17,"y":0.3},{"x":2.18,"y":-0.2},{"x":2.19,"y":1.05},{"x":2.2,"y":1.6},{"x":2.2,"y":-0.65},{"x":2.21,"y":0.0},{"x":2.22,"y":2.65},{"x":2.22,"y":0.55},{"x":2.23,"y":-1.05},{"x":2.24,"y":1.85},{"x":2.24,"y":0.2},{"x":2.25,"y":-0.4},{"x":2.26,"y":0.9},{"x":2.26,"y":-1.25},{"x":2.27,"y":1.35},{"x":2.28,"y":0.1},{"x":2.29,"y":-0.75},{"x":2.3,"y":1.15},{"x":2.3,"y":-1.98},{"x":2.31,"y":0.4},{"x":2.32,"y":-0.3},{"x":2.33,"y":0.75},{"x":2.34,"y":-1.45},{"x":2.35,"y":1.45},{"x":2.35,"y":-0.05},{"x":2.36,"y":0.55},{"x":2.37,"y":-0.85},{"x":2.38,"y":0.25},{"x":1.95,"y":-1.0},{"x":2.05,"y":-0.35},{"x":2.15,"y":0.6},{"x":2.25,"y":0.65},{"x":2.0,"y":0.4},{"x":2.1,"y":-1.6},
{"x":2.43,"y":-0.05},{"x":2.44,"y":-1.1},{"x":2.45,"y":-2.15},{"x":2.45,"y":0.4},{"x":2.46,"y":-0.6},{"x":2.47,"y":-1.65},{"x":2.47,"y":0.1},{"x":2.48,"y":-0.3},{"x":2.49,"y":-1.3},{"x":2.5,"y":-0.8},{"x":2.5,"y":0.25},{"x":2.51,"y":-1.9},{"x":2.52,"y":-0.45},{"x":2.53,"y":-1.1},{"x":2.53,"y":0.6},{"x":2.54,"y":-0.15},{"x":2.55,"y":-1.4},{"x":2.55,"y":0.9},{"x":2.56,"y":-0.65},{"x":2.57,"y":0.3},{"x":2.57,"y":-1.7},{"x":2.58,"y":1.2},{"x":2.58,"y":-0.35},{"x":2.59,"y":-1.0},{"x":2.6,"y":0.5},{"x":2.6,"y":1.65},{"x":2.61,"y":-0.8},{"x":2.61,"y":0.05},{"x":2.62,"y":1.0},{"x":2.62,"y":-1.3},{"x":2.63,"y":0.7},{"x":2.63,"y":-0.25},{"x":2.64,"y":2.7},{"x":2.64,"y":-2.95},{"x":2.64,"y":1.6},{"x":2.65,"y":3.1},{"x":2.65,"y":0.35},{"x":2.66,"y":-0.55},{"x":2.66,"y":1.15},{"x":2.67,"y":2.55},{"x":2.67,"y":0.0},{"x":2.68,"y":2.05},{"x":2.68,"y":0.85},{"x":2.69,"y":-0.7},{"x":2.69,"y":1.4},{"x":2.7,"y":0.45},{"x":2.7,"y":2.32},{"x":2.71,"y":-0.35},{"x":2.71,"y":1.0},{"x":2.72,"y":0.2},{"x":2.73,"y":0.6},{"x":2.74,"y":-0.1},{"x":2.75,"y":0.3},{"x":2.76,"y":-0.5},{"x":2.6,"y":0.2},{"x":2.55,"y":-0.1},
{"x":3.72,"y":-0.58}
],
"p4":[
{"x":0.2,"y":1.75},{"x":0.22,"y":0.35},{"x":0.25,"y":-0.6},{"x":0.28,"y":1.45},{"x":0.3,"y":0.1},{"x":0.3,"y":-1.2},{"x":0.32,"y":1.05},{"x":0.35,"y":0.5},{"x":0.35,"y":-0.25},{"x":0.38,"y":1.6},{"x":0.4,"y":-1.55},{"x":0.4,"y":0.8},{"x":0.42,"y":0.0},{"x":0.45,"y":1.3},{"x":0.45,"y":-0.65},{"x":0.48,"y":0.45},{"x":0.5,"y":-1.0},{"x":0.5,"y":1.45},{"x":0.52,"y":0.2},{"x":0.55,"y":-0.3},{"x":0.55,"y":0.95},{"x":0.58,"y":-1.3},{"x":0.6,"y":0.6},{"x":0.6,"y":1.45},{"x":0.62,"y":-0.05},{"x":0.65,"y":3.0},{"x":0.65,"y":-0.75},{"x":0.68,"y":0.3},{"x":0.7,"y":3.12},{"x":0.7,"y":1.1},{"x":0.72,"y":-1.15},{"x":0.75,"y":0.55},{"x":0.75,"y":2.05},{"x":0.78,"y":-0.4},{"x":0.8,"y":2.05},{"x":0.8,"y":0.9},{"x":0.82,"y":-1.4},{"x":0.85,"y":0.15},{"x":0.85,"y":1.2},{"x":0.88,"y":-0.85},{"x":0.9,"y":0.7},{"x":0.9,"y":-1.8},{"x":0.92,"y":1.55},{"x":0.95,"y":0.05},{"x":0.95,"y":-0.5},{"x":0.98,"y":0.8},{"x":1.0,"y":2.38},{"x":1.0,"y":-1.2},{"x":1.0,"y":0.35},{"x":1.02,"y":1.0},{"x":1.02,"y":-0.25},{"x":1.05,"y":0.6},{"x":1.05,"y":-0.7},{"x":1.07,"y":1.5},{"x":1.08,"y":-1.05},{"x":1.1,"y":0.75},{"x":1.1,"y":0.0},{"x":1.12,"y":-0.4},{"x":1.12,"y":1.2},{"x":1.15,"y":2.95},{"x":1.15,"y":0.45},{"x":1.18,"y":-0.9},{"x":1.2,"y":0.8},{"x":1.2,"y":-1.5},{"x":1.22,"y":1.4},{"x":1.25,"y":0.1},{"x":1.25,"y":-0.6},{"x":1.28,"y":0.95},{"x":1.3,"y":3.05},{"x":1.3,"y":-0.2},{"x":1.32,"y":0.5},{"x":1.35,"y":-1.25},{"x":1.38,"y":1.1},{"x":1.4,"y":0.3},{"x":1.4,"y":1.65},{"x":1.42,"y":-0.8},{"x":1.45,"y":0.7},{"x":1.48,"y":-0.1},{"x":1.5,"y":1.0},{"x":1.5,"y":-0.45},
{"x":0.25,"y":0.9},{"x":0.3,"y":0.55},{"x":0.38,"y":-0.7},{"x":0.42,"y":0.6},{"x":0.48,"y":-0.3},{"x":0.52,"y":1.0},{"x":0.58,"y":0.35},{"x":0.62,"y":0.6},{"x":0.68,"y":-0.25},{"x":0.72,"y":0.45},{"x":0.78,"y":0.2},{"x":0.82,"y":0.55},{"x":0.88,"y":0.3},{"x":0.92,"y":-0.2},{"x":0.98,"y":0.15},{"x":1.0,"y":0.75},{"x":1.03,"y":-0.5},{"x":1.06,"y":0.25},{"x":1.08,"y":0.55},{"x":1.13,"y":0.15},{"x":1.17,"y":-0.2},{"x":1.2,"y":0.35},{"x":1.23,"y":-0.35},{"x":1.27,"y":0.55},{"x":1.33,"y":-0.5},{"x":1.37,"y":0.15},{"x":1.43,"y":0.4},{"x":1.47,"y":-0.65},{"x":1.6,"y":0.65},{"x":1.7,"y":-0.35},{"x":1.75,"y":0.95},{"x":1.85,"y":0.4},{"x":2.1,"y":-0.1},{"x":2.2,"y":0.3},{"x":2.3,"y":-0.35},{"x":2.4,"y":0.55},{"x":2.6,"y":0.4},{"x":2.7,"y":0.1},{"x":2.8,"y":-0.3},{"x":2.9,"y":0.55},{"x":3.1,"y":0.4},{"x":3.2,"y":-0.5},{"x":3.3,"y":0.3},
{"x":1.55,"y":0.55},{"x":1.55,"y":1.95},{"x":1.6,"y":-1.4},{"x":1.6,"y":0.2},{"x":1.65,"y":1.2},{"x":1.68,"y":-0.6},{"x":1.7,"y":0.75},{"x":1.72,"y":-1.78},{"x":1.75,"y":0.4},{"x":1.78,"y":2.2},{"x":1.8,"y":-0.15},{"x":1.8,"y":1.35},{"x":1.85,"y":-1.1},{"x":1.88,"y":0.6},{"x":1.9,"y":1.0},{"x":1.92,"y":-0.5},{"x":1.95,"y":0.25},{"x":1.95,"y":-1.25},{"x":2.0,"y":2.3},{"x":2.0,"y":1.8},{"x":2.0,"y":1.5},{"x":2.0,"y":1.1},{"x":2.0,"y":0.75},{"x":2.0,"y":0.4},{"x":2.0,"y":0.05},{"x":2.0,"y":-0.3},{"x":2.0,"y":-0.7},{"x":2.0,"y":-1.1},{"x":2.0,"y":-1.45},{"x":2.0,"y":-2.0},{"x":2.02,"y":-2.3},{"x":2.05,"y":1.3},{"x":2.08,"y":-0.95},{"x":2.1,"y":0.55},{"x":2.15,"y":-0.45},{"x":2.2,"y":2.0},{"x":2.2,"y":0.9},{"x":2.25,"y":-1.3},{"x":2.3,"y":0.3},{"x":2.35,"y":-0.7},{"x":2.4,"y":1.6},{"x":2.45,"y":-0.2},{"x":2.5,"y":2.22},{"x":2.5,"y":1.05},{"x":2.5,"y":0.45},{"x":2.5,"y":-0.15},{"x":2.5,"y":-0.85},{"x":2.5,"y":-1.25},{"x":2.55,"y":0.15},{"x":2.6,"y":-1.45},{"x":2.62,"y":1.95},{"x":2.65,"y":0.7},{"x":2.7,"y":-0.5},{"x":2.75,"y":1.1},{"x":2.8,"y":-1.0},{"x":2.85,"y":0.3},{"x":2.9,"y":-1.35},{"x":2.95,"y":0.85},{"x":3.0,"y":3.2},{"x":3.0,"y":0.55},{"x":3.0,"y":0.2},{"x":3.0,"y":-0.1},{"x":3.0,"y":-0.4},{"x":3.0,"y":-0.75},{"x":3.0,"y":-1.1},{"x":3.0,"y":-1.6},{"x":3.0,"y":-1.7},{"x":3.0,"y":-2.2},{"x":3.0,"y":-2.95},{"x":3.0,"y":-3.58},{"x":3.0,"y":0.9},{"x":3.05,"y":-0.25},{"x":3.1,"y":1.55},{"x":3.15,"y":0.1},{"x":3.2,"y":-1.15},{"x":3.25,"y":2.05},{"x":3.3,"y":-0.55},{"x":3.35,"y":0.95},{"x":3.4,"y":1.6},{"x":3.45,"y":-1.65},{"x":3.5,"y":0.35},{"x":3.55,"y":-0.9},{"x":3.6,"y":1.35},{"x":3.65,"y":-0.35},{"x":3.7,"y":0.75},{"x":3.75,"y":-1.2},
{"x":4.0,"y":2.35},{"x":4.0,"y":2.12},{"x":4.0,"y":1.8},{"x":4.0,"y":1.4},{"x":4.0,"y":1.05},{"x":4.0,"y":0.85},{"x":4.0,"y":0.6},{"x":4.0,"y":0.35},{"x":4.0,"y":0.1},{"x":4.0,"y":-0.2},{"x":4.0,"y":-0.45},{"x":4.0,"y":-0.7},{"x":4.0,"y":-1.1},{"x":4.0,"y":-1.72},{"x":3.9,"y":0.45},{"x":4.1,"y":-0.9},{"x":4.2,"y":0.2},{"x":4.3,"y":-1.1},{"x":4.4,"y":-1.5},{"x":4.5,"y":0.65},{"x":4.6,"y":1.85},{"x":4.7,"y":-0.3},{"x":4.8,"y":1.05},{"x":4.75,"y":-0.75},
{"x":5.0,"y":3.1},{"x":5.0,"y":2.65},{"x":5.0,"y":2.5},{"x":5.0,"y":2.35},{"x":5.0,"y":2.05},{"x":5.0,"y":1.85},{"x":5.0,"y":1.6},{"x":5.0,"y":1.45},{"x":5.0,"y":1.2},{"x":5.0,"y":1.0},{"x":5.0,"y":0.8},{"x":5.0,"y":0.6},{"x":5.0,"y":0.4},{"x":5.0,"y":0.2},{"x":5.0,"y":0.0},{"x":5.0,"y":-0.2},{"x":5.0,"y":-0.45},{"x":5.0,"y":-0.7},{"x":5.0,"y":-0.95},{"x":5.0,"y":-1.1},{"x":5.05,"y":-0.35},{"x":4.95,"y":0.3},{"x":5.2,"y":-0.35},{"x":5.3,"y":-1.45},{"x":5.5,"y":-1.25},{"x":5.6,"y":0.35},
{"x":6.0,"y":1.65},{"x":6.0,"y":1.32},{"x":6.0,"y":0.9},{"x":6.0,"y":0.75},{"x":6.0,"y":0.55},{"x":6.0,"y":0.4},{"x":6.0,"y":0.25},{"x":6.0,"y":0.1},{"x":6.0,"y":-0.05},{"x":6.0,"y":-0.2},{"x":6.0,"y":-0.85},{"x":6.0,"y":-1.0},{"x":6.0,"y":-1.2},{"x":6.0,"y":-1.5},{"x":6.0,"y":-2.4},{"x":6.0,"y":-0.4},{"x":6.3,"y":-0.3},{"x":6.5,"y":1.3},{"x":6.5,"y":-1.35},{"x":6.2,"y":0.05},
{"x":7.0,"y":0.45},{"x":7.0,"y":0.0},{"x":7.0,"y":-0.15},{"x":7.0,"y":-0.3},{"x":7.0,"y":-0.5},{"x":7.0,"y":-0.7},{"x":7.0,"y":-0.85},{"x":7.0,"y":-1.0},{"x":7.0,"y":-1.15},{"x":7.0,"y":-1.3},{"x":7.0,"y":-1.45},{"x":7.0,"y":-1.6},{"x":7.0,"y":-1.75},{"x":7.0,"y":-1.9},{"x":7.0,"y":-1.97},{"x":7.0,"y":-1.05},{"x":7.0,"y":-1.2},{"x":6.9,"y":-0.6},{"x":7.0,"y":-0.25},{"x":7.0,"y":-1.55},
{"x":8.0,"y":0.95},{"x":8.0,"y":0.35},{"x":8.0,"y":0.25},{"x":8.0,"y":-0.15},{"x":8.0,"y":-0.45},{"x":8.0,"y":-0.6},{"x":8.0,"y":-0.75},{"x":8.0,"y":-0.9},{"x":8.0,"y":-1.05},{"x":8.0,"y":-1.15},{"x":8.0,"y":-1.5},{"x":8.0,"y":-1.7},{"x":8.0,"y":-2.15},{"x":8.0,"y":-2.38},{"x":8.0,"y":-2.92},{"x":8.0,"y":-1.18},{"x":8.0,"y":-0.3},{"x":8.5,"y":0.95},{"x":7.95,"y":-1.3},
{"x":9.0,"y":0.35},{"x":9.2,"y":-0.3},{"x":9.3,"y":-0.85},{"x":9.4,"y":-0.75},{"x":9.0,"y":-1.38},{"x":9.2,"y":-1.38},{"x":9.5,"y":0.3},{"x":9.6,"y":-1.3},{"x":9.7,"y":0.05},{"x":9.8,"y":-1.2},{"x":9.9,"y":0.0},{"x":10.0,"y":1.45},{"x":10.0,"y":1.05},{"x":10.0,"y":0.9},{"x":10.0,"y":0.6},{"x":10.0,"y":0.5},{"x":10.0,"y":0.4},{"x":10.0,"y":0.25},{"x":10.0,"y":0.1},{"x":10.0,"y":-0.15},{"x":10.0,"y":-0.4},{"x":10.0,"y":-0.55},{"x":10.0,"y":-0.65},{"x":10.0,"y":-0.85},{"x":10.0,"y":-1.05},{"x":10.0,"y":-1.2},{"x":10.0,"y":0.75},{"x":10.3,"y":-1.0},{"x":10.6,"y":1.5},{"x":10.7,"y":-0.85},{"x":10.5,"y":-1.6},{"x":11.0,"y":-1.38},{"x":11.1,"y":-1.98},{"x":11.0,"y":0.2},{"x":10.9,"y":-0.5},
{"x":11.1,"y":2.9},{"x":11.2,"y":2.45},{"x":11.3,"y":1.7},{"x":11.3,"y":0.05},{"x":11.4,"y":1.5},{"x":11.4,"y":-0.25},{"x":11.5,"y":0.9},{"x":11.5,"y":-0.6},{"x":11.6,"y":1.2},{"x":11.6,"y":0.3},{"x":11.7,"y":-0.85},{"x":11.7,"y":0.6},{"x":11.8,"y":1.0},{"x":11.8,"y":-0.1},{"x":11.9,"y":1.85},{"x":11.9,"y":0.25},{"x":12.0,"y":2.62},{"x":12.0,"y":1.9},{"x":12.0,"y":1.6},{"x":12.0,"y":1.35},{"x":12.0,"y":1.15},{"x":12.0,"y":1.0},{"x":12.0,"y":0.85},{"x":12.0,"y":0.7},{"x":12.0,"y":0.55},{"x":12.0,"y":0.2},{"x":12.0,"y":0.05},{"x":12.0,"y":-0.1},{"x":12.0,"y":-0.3},{"x":12.0,"y":-0.45},{"x":12.0,"y":-1.7},{"x":12.0,"y":-1.98},{"x":12.0,"y":-1.35},{"x":12.1,"y":0.4},{"x":12.2,"y":-0.2},{"x":12.2,"y":1.15},{"x":12.3,"y":-0.55},{"x":12.4,"y":0.8},{"x":12.5,"y":1.4},{"x":12.8,"y":2.5},{"x":12.8,"y":0.95},{"x":13.2,"y":1.35},{"x":13.0,"y":-0.9},{"x":13.0,"y":-1.05},{"x":13.3,"y":0.6},{"x":13.5,"y":-1.6},{"x":13.5,"y":-1.15},{"x":13.4,"y":-0.45},{"x":11.8,"y":-1.25},{"x":11.5,"y":-1.45},
{"x":13.7,"y":-0.7},{"x":13.8,"y":-1.1},{"x":13.9,"y":0.4},{"x":14.0,"y":0.95},{"x":14.0,"y":0.1},{"x":14.0,"y":-0.55},{"x":14.1,"y":1.8},{"x":14.1,"y":-0.05},{"x":14.2,"y":0.65},{"x":14.2,"y":-1.35},{"x":14.3,"y":1.4},{"x":14.3,"y":0.25},{"x":14.3,"y":-0.25},{"x":14.4,"y":0.8},{"x":14.4,"y":-0.85},{"x":14.4,"y":0.0},{"x":14.5,"y":1.3},{"x":14.5,"y":0.45},{"x":14.5,"y":0.1},{"x":14.5,"y":-0.15},{"x":14.5,"y":-0.95},{"x":14.6,"y":1.15},{"x":14.6,"y":0.55},{"x":14.6,"y":-0.3},{"x":14.6,"y":-1.2},{"x":14.7,"y":0.05},{"x":14.7,"y":-0.5},{"x":14.8,"y":2.15},{"x":14.8,"y":0.85},{"x":14.8,"y":-0.65},{"x":14.8,"y":-1.9},{"x":14.9,"y":1.95},{"x":14.9,"y":0.2},{"x":14.9,"y":-1.15},{"x":15.0,"y":1.2},{"x":15.0,"y":-0.05},{"x":15.0,"y":-1.35},{"x":15.1,"y":2.3},{"x":15.1,"y":1.92},{"x":15.1,"y":0.45},{"x":15.1,"y":-1.65},{"x":15.2,"y":-1.85},{"x":15.3,"y":-2.12},{"x":15.5,"y":0.6},{"x":15.5,"y":-0.35},
{"x":16.0,"y":-0.59},{"x":17.9,"y":0.13},{"x":19.6,"y":0.08},{"x":20.0,"y":0.46},{"x":20.5,"y":1.88}
]
},
"columns":2,
"spacing":{"row":75,"column":62},
"bounds":"flush",
"align":"each",
"concat":[
{"width":310,"height":296,
"title":{"text":"Individual predictions versus concentrations","dx":4},
"layer":[
{"data":{"name":"p1"},"mark":{"type":"point"},
"encoding":{"x":{"field":"x","type":"quantitative","scale":{"domain":[0.02,5.84],"nice":false,"zero":false},"axis":{"values":[1,2,3,4,5],"title":"Individual predicted concentration (mg/L)","labelPadding":10,"titleY":28.6,"titleBaseline":"top"}},
"y":{"field":"y","type":"quantitative","scale":{"domain":[0.02,5.8],"nice":false,"zero":false},"axis":{"values":[1,2,3,4,5],"title":"Observed concentration (mg/L)","labelPadding":5,"titleX":-23,"titleBaseline":"alphabetic"}}}},
{"data":{"values":[{"x":0.03,"y":0.06},{"x":5.13,"y":5.1}]},"mark":{"type":"line","color":"#8c8c8c","strokeWidth":1,"clip":true},"encoding":{"x":{"field":"x","type":"quantitative"},"y":{"field":"y","type":"quantitative"}}},
{"data":{"values":[{"x":0.02,"y":0.02},{"x":5.84,"y":5.84}]},"mark":{"type":"line","color":"black","strokeWidth":1.3,"clip":true},"encoding":{"x":{"field":"x","type":"quantitative"},"y":{"field":"y","type":"quantitative"}}}
]},
{"width":309,"height":296,
"title":{"text":"Population predictions versus concentrations","dx":5.5},
"layer":[
{"data":{"name":"p2"},"mark":{"type":"point"},
"encoding":{"x":{"field":"x","type":"quantitative","scale":{"domain":[0.013,5.81],"nice":false,"zero":false},"axis":{"values":[1,2,3,4,5],"title":"Population predicted concentration (mg/L)","labelPadding":10,"titleY":28.6,"titleBaseline":"top"}},
"y":{"field":"y","type":"quantitative","scale":{"domain":[0.02,5.8],"nice":false,"zero":false},"axis":{"values":[1,2,3,4,5],"title":"Observed concentration (mg/L)","labelPadding":5,"titleX":-23,"titleBaseline":"alphabetic"}}}},
{"data":{"values":[{"x":0.02,"y":0.12},{"x":3.73,"y":3.9}]},"mark":{"type":"line","color":"#8c8c8c","strokeWidth":1,"clip":true},"encoding":{"x":{"field":"x","type":"quantitative"},"y":{"field":"y","type":"quantitative"}}},
{"data":{"values":[{"x":0.013,"y":0.013},{"x":5.81,"y":5.81}]},"mark":{"type":"line","color":"black","strokeWidth":1.3,"clip":true},"encoding":{"x":{"field":"x","type":"quantitative"},"y":{"field":"y","type":"quantitative"}}}
]},
{"width":310,"height":281,
"title":{"text":"Conditional weighted residuals versus population predictions","dx":9.7},
"layer":[
{"data":{"name":"p3"},"mark":{"type":"point"},
"encoding":{"x":{"field":"x","type":"quantitative","scale":{"domain":[-0.281,4.007],"nice":false,"zero":false},"axis":{"values":[0,1,2,3],"title":"Population predicted concentration (mg/L)","tickSize":8,"labelPadding":11,"titleY":29.6,"titleBaseline":"top"}},
"y":{"field":"y","type":"quantitative","scale":{"domain":[-3.745,3.351],"nice":false,"zero":false},"axis":{"values":[-2,0,2],"title":"CWRES","titleFontSize":7.8,"tickSize":8,"labelPadding":6.3,"titleX":-24,"titleBaseline":"alphabetic"}}}},
{"data":{"values":[{"y":1.96},{"y":-1.96}]},"mark":{"type":"rule","color":"black","strokeWidth":1.3,"strokeDash":[6,3.5]},"encoding":{"y":{"field":"y","type":"quantitative"}}},
{"data":{"values":[{"x":-0.281,"y":0.11},{"x":4.007,"y":-0.1}]},"mark":{"type":"line","color":"#8c8c8c","strokeWidth":1.2,"clip":true},"encoding":{"x":{"field":"x","type":"quantitative"},"y":{"field":"y","type":"quantitative"}}},
{"data":{"values":[{"y":0}]},"mark":{"type":"rule","color":"black","strokeWidth":1.4},"encoding":{"y":{"field":"y","type":"quantitative"}}}
]},
{"width":309,"height":281,
"title":{"text":"Conditional weighted residuals versus time","dx":5.5},
"layer":[
{"data":{"name":"p4"},"mark":{"type":"point"},
"encoding":{"x":{"field":"x","type":"quantitative","scale":{"domain":[-1.677,21.884],"nice":false,"zero":false},"axis":{"values":[0,5,10,15,20],"title":"Time after dose (h)","tickSize":8,"labelPadding":11,"titleY":29.6,"titleBaseline":"top"}},
"y":{"field":"y","type":"quantitative","scale":{"domain":[-3.745,3.351],"nice":false,"zero":false},"axis":{"values":[-2,0,2],"title":"CWRES","titleFontSize":7.8,"tickSize":8,"labelPadding":9.3,"titleX":-24,"titleBaseline":"alphabetic"}}}},
{"data":{"values":[{"y":1.96},{"y":-1.96}]},"mark":{"type":"rule","color":"black","strokeWidth":1.3,"strokeDash":[6,3.5]},"encoding":{"y":{"field":"y","type":"quantitative"}}},
{"data":{"values":[{"x":-1.677,"y":0.07},{"x":2.5,"y":0.03},{"x":21.884,"y":0.0}]},"mark":{"type":"line","color":"#8c8c8c","strokeWidth":1.2,"clip":true},"encoding":{"x":{"field":"x","type":"quantitative"},"y":{"field":"y","type":"quantitative"}}},
{"data":{"values":[{"y":0}]},"mark":{"type":"rule","color":"black","strokeWidth":1.4},"encoding":{"y":{"field":"y","type":"quantitative"}}}
]}
]
}
